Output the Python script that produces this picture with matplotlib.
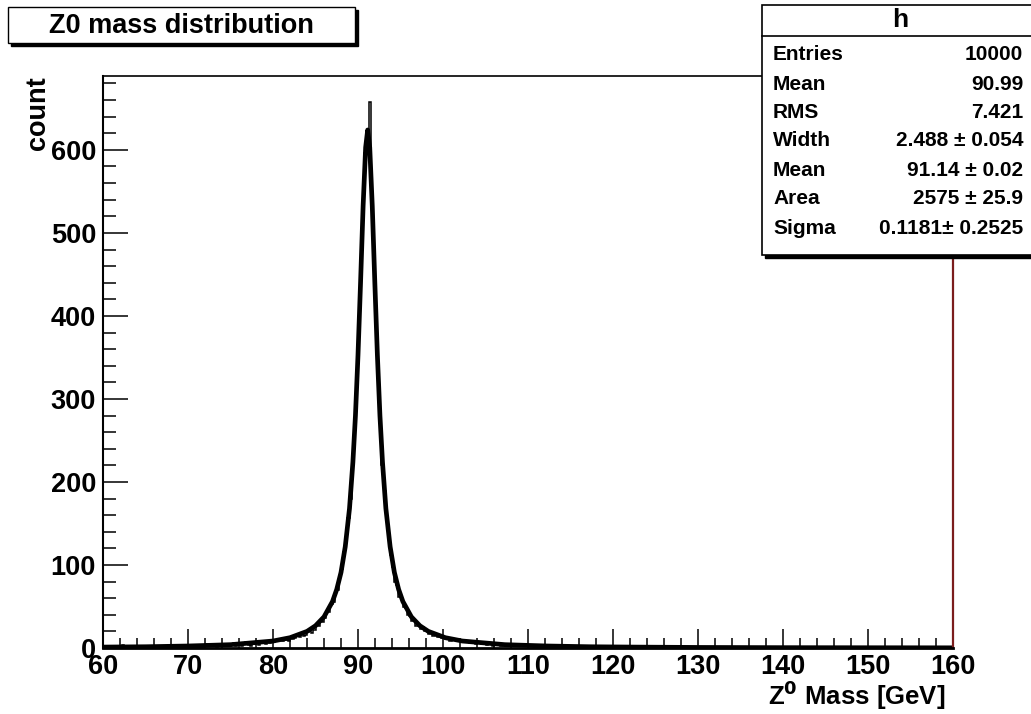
import numpy as np
import matplotlib
matplotlib.use('Agg')
import matplotlib.pyplot as plt
from matplotlib.patches import Rectangle
from matplotlib.ticker import MultipleLocator

plt.rcParams['font.family'] = ['Liberation Sans', 'DejaVu Sans']
plt.rcParams['font.weight'] = 'bold'
plt.rcParams['mathtext.default'] = 'bf'

# histogram: 400 bins of 0.25 GeV from 60 to 160
x_lo, x_hi, n_bins = 60.0, 160.0, 400
c_60_70 = [2,0,1,3,1,0,2,1,1,4, 0,2,1,1,3,0,2,1,2,1, 0,3,1,2,1,1,2,0,2,3, 1,2,1,4,2,1,0,2,3,2]
c_70_80 = [3,1,2,4,2,3,1,2,5,3, 2,4,3,1,3,5,2,4,3,2, 4,6,3,5,4,2,5,7,4,3, 6,5,8,4,6,7,5,9,6,8]
c_80_85 = [7,10,8,11,9,12,10,8,13,11, 12,15,13,17,14,16,19,21,18,22]
c_85_88 = [29,26,34,31,36,44,43,53,55,67,70,85]
c_88_90 = [95,116,128,157,180,222,262,322]
c_90_92 = [384,466,535,596,612,658,545,470]
c_92_94 = [398,325,274,220,189,154,136,112]
c_94_97 = [98,80,76,62,59,49,48,40,39,33,34,27]
c_97_100 = [28,23,25,20,21,17,19,15,16,13,15,12]
c_100_105 = [13,11,12,9,11,10,8,10,9,7, 8,9,6,8,7,5,7,6,5,6]
c_105_110 = [4,6,5,3,5,4,6,3,4,5, 3,4,2,4,3,5,2,3,4,2]
c_110_120 = [3,2,4,1,3,2,2,3,1,2, 3,1,2,2,1,3,2,1,2,1, 2,1,0,2,1,2,1,1,3,1, 0,1,2,1,1,0,2,1,1,2]
c_120_130 = [1,0,1,2,0,1,1,0,1,2, 0,1,1,0,0,1,2,1,0,1, 1,0,1,0,1,1,0,2,0,1, 0,1,0,1,1,0,0,1,0,1]
c_130_140 = [0,1,0,0,1,0,1,0,0,1, 1,0,0,1,0,0,0,1,0,1, 0,0,1,0,1,0,0,0,1,0, 0,1,0,0,0,1,0,1,0,0]
c_140_150 = [1,0,0,0,1,0,0,1,0,0, 0,1,0,0,0,0,1,0,0,1, 0,0,0,1,0,0,1,0,0,0, 1,0,0,0,0,1,0,0,0,0]
c_150_160 = [0,0,1,0,0,0,0,1,0,0, 0,0,0,1,0,0,0,0,1,0, 0,0,0,0,1,0,0,0,0,0, 0,1,0,0,0,0,0,0,1,0]

# fit curve
fit_x = [60, 65, 70, 75, 80, 82, 84, 85, 86, 87, 87.5, 88, 88.5, 89, 89.4, 89.7, 90, 90.3,
         90.6, 90.9, 91.14, 91.38, 91.68, 91.98, 92.28, 92.58, 92.88, 93.28, 93.78, 94.28,
         94.78, 95.28, 96.28, 97.28, 98.28, 100.28, 102.28, 107.28, 112.28, 117.28, 122.28,
         130, 140, 150, 160]
fit_y = [1.1, 1.5, 2.4, 4.0, 8.4, 12.4, 20, 26.8, 37.5, 56, 70.6, 91, 122, 168, 224, 280, 353, 440,
         532, 603, 624, 603, 532, 440, 353, 280, 224, 168, 122, 91,
         70.6, 56, 37.5, 26.8, 20, 12.4, 8.4, 4.0, 2.4, 1.5, 1.1,
         0.65, 0.4, 0.3, 0.2]

stat_names = ['Entries', 'Mean', 'RMS', 'Width', 'Mean', 'Area', 'Sigma']
stat_vals = ['10000', '90.99', '7.421', '2.488 \u00b1 0.054', '91.14 \u00b1 0.02',
             '2575 \u00b1 25.9', '0.1181\u00b1 0.2525']

counts = np.array(c_60_70 + c_70_80 + c_80_85 + c_85_88 + c_88_90 + c_90_92 + c_92_94 +
                  c_94_97 + c_97_100 + c_100_105 + c_105_110 + c_110_120 + c_120_130 +
                  c_130_140 + c_140_150 + c_150_160)
edges = np.linspace(x_lo, x_hi, n_bins + 1)

W, H = 1031, 714
fig = plt.figure(figsize=(W / 100, H / 100), dpi=100)
fig.patch.set_facecolor('white')

def fx(px):
    return px / W

def fy(py):
    return 1 - py / H

ax = fig.add_axes([fx(103), fy(648), fx(953) - fx(103), fy(76) - fy(648)])
ax.stairs(counts, edges, color='black', lw=1.1)
ax.plot(fit_x, fit_y, color='black', lw=3.4)

ax.set_xlim(60, 160)
ax.set_ylim(0, 689)
ax.xaxis.set_major_locator(MultipleLocator(10))
ax.xaxis.set_minor_locator(MultipleLocator(2))
ax.yaxis.set_major_locator(MultipleLocator(100))
ax.yaxis.set_minor_locator(MultipleLocator(20))
ax.tick_params(axis='x', which='major', direction='in', length=13.5, width=1.1, labelsize=19.5, pad=4)
ax.tick_params(axis='x', which='minor', direction='in', length=7.2, width=1.1)
ax.tick_params(axis='y', which='major', direction='in', length=18, width=1.1, labelsize=19.5, pad=5)
ax.tick_params(axis='y', which='minor', direction='in', length=9.4, width=1.1)
for lab in ax.get_xticklabels() + ax.get_yticklabels():
    lab.set_fontweight('bold')

ax.spines['top'].set_linewidth(1.2)
ax.spines['left'].set_linewidth(1.5)
ax.spines['bottom'].set_linewidth(2.0)
ax.spines['right'].set_linewidth(1.6)
ax.spines['right'].set_color('#7b1d1d')

fig.text(fx(945), fy(705), r'Z$^{0}$ Mass [GeV]', ha='right', va='baseline',
         fontsize=18.5, fontweight='bold')
fig.text(fx(38), fy(76), 'count', rotation=90, ha='center', va='top',
         fontsize=19.5, fontweight='bold')

# title box with shadow
fig.add_artist(Rectangle((fx(11), fy(46)), fx(347), fy(7) - fy(43),
                         transform=fig.transFigure, facecolor='black', edgecolor='black', zorder=4))
fig.add_artist(Rectangle((fx(8), fy(43)), fx(347), fy(7) - fy(43),
                         transform=fig.transFigure, facecolor='white', edgecolor='black', lw=1.0, zorder=5))
fig.text(fx(181), fy(26), 'Z0 mass distribution', ha='center', va='center',
         fontsize=19.5, fontweight='bold', zorder=6)

# stats box with shadow
fig.add_artist(Rectangle((fx(765), fy(258)), fx(300), fy(5) - fy(255),
                         transform=fig.transFigure, facecolor='black', edgecolor='black', zorder=4))
fig.add_artist(Rectangle((fx(762), fy(255)), fx(300), fy(5) - fy(255),
                         transform=fig.transFigure, facecolor='white', edgecolor='black', lw=1.2, zorder=5))
fig.add_artist(plt.Line2D([fx(762), 1], [fy(36), fy(36)], transform=fig.transFigure,
                          color='black', lw=1.2, zorder=6))
fig.text(fx(900), fy(20), 'h', ha='center', va='center', fontsize=19, fontweight='bold', zorder=6)
row_y = [55, 84, 112, 141, 170, 199, 228]
for name, val, ry in zip(stat_names, stat_vals, row_y):
    fig.text(fx(773), fy(ry), name, ha='left', va='center', fontsize=15, fontweight='bold', zorder=6)
    fig.text(fx(1023), fy(ry), val, ha='right', va='center', fontsize=15, fontweight='bold', zorder=6)

fig.savefig('out.png', dpi=100, facecolor='white')
